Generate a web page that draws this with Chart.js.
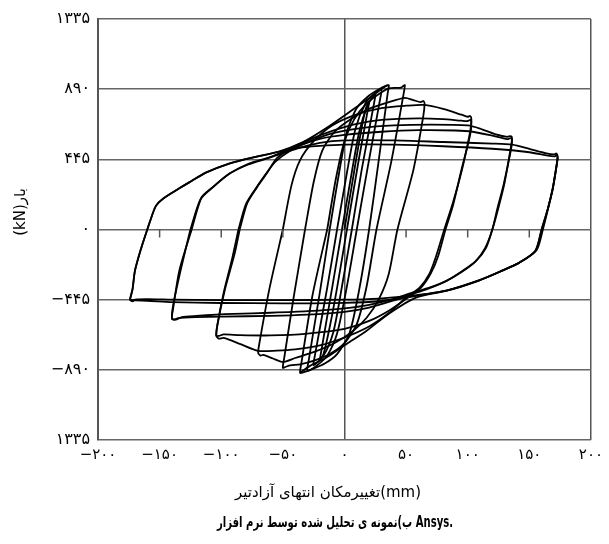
<!DOCTYPE html>
<html>
<head>
<meta charset="utf-8">
<script src="https://cdn.jsdelivr.net/npm/chart.js@4.4.1/dist/chart.umd.min.js"></script>
<style>
  html, body { margin: 0; padding: 0; background: #fff; }
  #wrap { width: 609px; height: 544px; position: relative; }
</style>
</head>
<body>
<div id="wrap"><canvas id="hysteresis"></canvas></div>
<script>
// tick values / labels (Persian digits as in the figure)
var xTickValues = [-200, -150, -100, -50, 0, 50, 100, 150, 200];
var xTickLabels = ['−۲۰۰', '−۱۵۰', '−۱۰۰', '−۵۰', '۰', '۵۰', '۱۰۰', '۱۵۰', '۲۰۰'];
var yTickValues = [-1335, -890, -445, 0, 445, 890, 1335];
var yTickLabels = ['۱۳۳۵', '−۸۹۰', '−۴۴۵', '۰', '۴۴۵', '۸۹۰', '۱۳۳۵'];
var zeroLineTicks = [-150, -100, -50, 50, 100, 150];

var xTitle = 'تغییرمکان انتهای آزادتیر(mm)';
var yTitle = '(kN)بار';
var caption = 'ب)نمونه ی تحلیل شده توسط نرم افزار Ansys.';

// load cycles, [displacement mm, load kN]
var cycle1 = [[0,0],[6,280],[12,560],[17,760],[20,810],[19,760],[12,460],[2,0],[-6,-370],[-12,-620],[-17,-790],[-20,-830],[-19,-780],[-10,-370],[-2,0]];
var cycle2 = [[-2,0],[5,320],[12,620],[19,790],[25,860],[24,800],[14,380],[6,0],[-2,-360],[-9,-650],[-17,-800],[-25,-860],[-24,-800],[-14,-370],[-6,0]];
var cycle3 = [[-6,0],[2,360],[9,640],[17,800],[24,860],[30,890],[29,830],[19,400],[10,0],[2,-360],[-6,-660],[-14,-800],[-22,-860],[-30,-895],[-29,-830],[-20,-400],[-12,0]];
var cycle4 = [[-12,0],[-5,330],[2,620],[10,770],[20,850],[28,890],[34,912],[36,915],[35,860],[28,450],[20,0],[12,-380],[4,-660],[-6,-790],[-16,-850],[-26,-885],[-33,-905],[-36,-909],[-35,-850],[-26,-420],[-14,0]];
var cycle5 = [[-14,0],[-7,320],[0,560],[8,700],[18,800],[28,860],[36,895],[42,898],[46,900],[48,912],[49,915],[48,860],[38,430],[26,0],[18,-360],[10,-600],[0,-720],[-12,-790],[-24,-830],[-36,-855],[-44,-862],[-48,-872],[-50,-877],[-49,-820],[-41,-420],[-32,0]];
var cycle6 = [[-32,0],[-25,300],[-18,500],[-8,620],[5,700],[20,765],[35,805],[49,835],[56,820],[62,808],[64,815],[65,800],[64,720],[56,380],[43,0],[36,-280],[28,-440],[18,-560],[6,-650],[-8,-720],[-24,-775],[-40,-815],[-50,-840],[-58,-818],[-66,-795],[-68,-800],[-70,-782],[-69,-720],[-61,-380],[-50,0]];
var cycle7 = [[-50,0],[-43,280],[-36,440],[-25,560],[-10,660],[10,730],[30,770],[50,785],[65,790],[80,765],[95,728],[100,715],[102,720],[103,700],[102,620],[96,400],[88,170],[81,0],[74,-178],[69,-280],[61,-369],[50,-432],[36,-530],[20,-615],[0,-685],[-20,-735],[-40,-760],[-55,-768],[-70,-770],[-85,-725],[-98,-688],[-102,-692],[-104,-674],[-103,-600],[-97,-380],[-89,-150],[-85,0]];
var cycle8 = [[-85,0],[-79,165],[-71,267],[-63,356],[-55,451],[-42,521],[-26,578],[-8,630],[10,670],[30,695],[60,705],[80,700],[95,690],[100,688],[102,695],[103,685],[102,600],[95,380],[88,150],[82,0],[76,-170],[70,-280],[62,-370],[50,-440],[36,-515],[20,-580],[0,-630],[-30,-660],[-60,-672],[-85,-670],[-98,-665],[-102,-675],[-104,-674],[-103,-600],[-98,-400],[-91,-180],[-86,0]];
var cycle9 = [[-86,0],[-80,160],[-72,260],[-64,350],[-56,430],[-44,500],[-28,560],[-10,610],[15,645],[40,660],[70,665],[100,660],[110,640],[122,605],[132,588],[135,592],[136,578],[135,520],[130,300],[125,140],[120,0],[115,-114],[107,-197],[96,-261],[83,-324],[69,-369],[55,-400],[40,-440],[20,-478],[0,-500],[-30,-518],[-60,-528],[-90,-535],[-104,-540],[-120,-548],[-132,-556],[-137,-572],[-140,-566],[-139,-500],[-134,-261],[-124,0]];
var cycle10 = [[-124,0],[-116,203],[-107,267],[-93,356],[-77,420],[-61,458],[-47,502],[-36,534],[-20,575],[0,600],[30,620],[60,630],[90,628],[104,620],[120,595],[132,573],[135,580],[136,565],[135,500],[129,280],[124,130],[120,0],[114,-120],[106,-205],[95,-270],[82,-330],[68,-375],[55,-410],[40,-450],[20,-495],[0,-522],[-30,-540],[-60,-548],[-100,-552],[-120,-556],[-135,-562],[-138,-570],[-140,-566],[-139,-480],[-133,-260],[-125,0]];
var cycle11 = [[-125,0],[-117,190],[-108,260],[-94,350],[-78,412],[-62,452],[-48,490],[-36,520],[-20,550],[0,565],[40,565],[80,555],[120,545],[136,538],[150,512],[163,485],[170,476],[172,482],[173,458],[172,400],[169,260],[165,130],[160,0],[155,-134],[142,-210],[128,-261],[109,-324],[83,-388],[55,-420],[28,-438],[0,-445],[-50,-448],[-100,-448],[-140,-445],[-160,-442],[-170,-445],[-172,-456],[-174,-445],[-172,-380],[-170,-261],[-165,-120],[-160,0]];
var cycle12 = [[-160,0],[-157,70],[-153,150],[-147,197],[-134,261],[-126,299],[-112,362],[-93,420],[-74,458],[-55,490],[-40,515],[-20,530],[0,538],[40,538],[80,528],[120,512],[150,490],[165,468],[171,464],[172,472],[173,458],[172,395],[169,255],[165,125],[161,0],[156,-130],[143,-205],[129,-258],[110,-320],[84,-385],[55,-425],[28,-455],[0,-465],[-50,-468],[-100,-466],[-140,-460],[-160,-452],[-170,-450],[-174,-445]];
// outer branches running into the peak loads
var envelopeUp = [[-174,-445],[-172,-380],[-170,-261],[-165,-120],[-160,0],[-157,70],[-153,150],[-147,197],[-134,261],[-126,299],[-112,362],[-93,420],[-74,458],[-55,490],[-34,553],[-15,642],[6,756],[20,833],[31,896],[35,915]];
var envelopeDown = [[173,458],[172,400],[169,260],[165,130],[160,0],[155,-134],[142,-210],[128,-261],[109,-324],[83,-388],[58,-432],[36,-534],[18,-642],[2,-725],[-15,-814],[-28,-865],[-36,-909]];

var allPaths = [cycle1, cycle2, cycle3, cycle4, cycle5, cycle6, cycle7, cycle8, cycle9, cycle10, cycle11, cycle12, envelopeUp, envelopeDown];

var datasets = allPaths.map(function (path) {
    return {
        data: path.map(function (p) { return {x: p[0], y: p[1]}; }),
        showLine: true,
        borderColor: '#000',
        borderWidth: 1.8,
        pointRadius: 0,
        tension: 0.25,
        fill: false
    };
});

function lookup(values, labels, v) {
    var i = values.indexOf(v);
    return i < 0 ? '' : labels[i];
}

// centred text, squeezed horizontally when wider than maxW
function drawText(ctx, str, cx, cy, maxW) {
    var w = ctx.measureText(str).width;
    var k = (maxW && w > maxW) ? maxW / w : 1;
    ctx.save();
    ctx.translate(cx, cy);
    ctx.scale(k, 1);
    ctx.fillText(str, 0, 0);
    ctx.restore();
}

var decor = {
    id: 'decor',
    afterDraw: function (chart) {
        var ctx = chart.ctx, x = chart.scales.x, y = chart.scales.y;
        ctx.save();
        ctx.strokeStyle = '#555';
        ctx.lineWidth = 1.5;
        var y0 = y.getPixelForValue(0);
        zeroLineTicks.forEach(function (v) {
            var px = x.getPixelForValue(v);
            ctx.beginPath();
            ctx.moveTo(px, y0);
            ctx.lineTo(px, y0 + 8);
            ctx.stroke();
        });
        ctx.fillStyle = '#000';
        ctx.direction = 'ltr';
        ctx.textAlign = 'center';
        ctx.textBaseline = 'middle';
        ctx.font = '15px "DejaVu Sans"';
        drawText(ctx, xTitle, 328, 493, 186);
        ctx.font = 'bold 15px "DejaVu Sans"';
        drawText(ctx, caption, 335, 523, 236);
        ctx.translate(21, 212);
        ctx.rotate(-Math.PI / 2);
        ctx.font = '15px "DejaVu Sans"';
        drawText(ctx, yTitle, 0, 0);
        ctx.restore();
    }
};

var ctx = document.getElementById('hysteresis').getContext('2d');
new Chart(ctx, {
    type: 'scatter',
    data: {datasets: datasets},
    options: {
        responsive: true,
        maintainAspectRatio: false,
        animation: false,
        layout: {padding: {left: 0, right: 17, top: 19, bottom: 0}},
        plugins: {legend: {display: false}, tooltip: {enabled: false}},
        scales: {
            x: {
                type: 'linear', min: -200, max: 200,
                afterFit: function (s) { s.height = 104; },
                border: {display: false},
                grid: {
                    drawTicks: false,
                    lineWidth: 1.5,
                    color: function (c) { return [-200, 0, 200].indexOf(c.tick.value) >= 0 ? '#555' : 'rgba(0,0,0,0)'; }
                },
                ticks: {
                    stepSize: 50, autoSkip: false, maxRotation: 0, padding: 6, color: '#000',
                    font: {family: 'DejaVu Sans', size: 15},
                    callback: function (v) { return lookup(xTickValues, xTickLabels, v); }
                }
            },
            y: {
                min: -1335, max: 1335,
                afterFit: function (s) { s.width = 98; },
                border: {display: true, color: '#555', width: 2},
                grid: {drawTicks: false, color: '#666', lineWidth: 1.6},
                ticks: {
                    stepSize: 445, padding: 8, color: '#000',
                    font: {family: 'DejaVu Sans', size: 16},
                    callback: function (v) { return lookup(yTickValues, yTickLabels, v); }
                }
            }
        }
    },
    plugins: [decor]
});
</script>
</body>
</html>
